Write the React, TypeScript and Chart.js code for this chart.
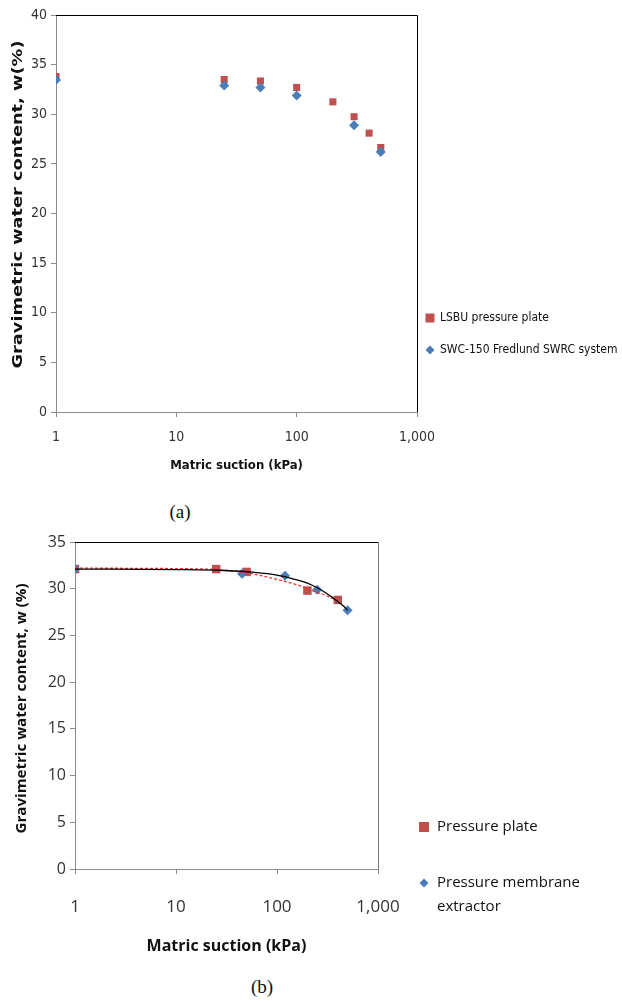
import React, { useEffect, useRef } from "react";
import { Chart, registerables } from "chart.js";

Chart.register(...registerables);

// ---------- data (a) ----------
const lsbuSuction = [1, 25, 50, 100, 200, 300, 400, 500];
const lsbuWater = [33.8, 33.5, 33.35, 32.7, 31.25, 29.75, 28.1, 26.65];
const swcSuction = [1, 25, 50, 100, 300, 500];
const swcWater = [33.45, 32.9, 32.7, 31.9, 28.9, 26.2];

// ---------- data (b) ----------
const plateSuction = [1, 25, 50, 200, 400];
const plateWater = [32.1, 32.1, 31.8, 29.8, 28.8];
const membraneSuction = [1, 45, 120, 250, 500];
const membraneWater = [32.1, 31.6, 31.4, 29.9, 27.7];
const membraneTrendSuction = [1, 10, 30, 60, 100, 150, 200, 250, 300, 350, 400, 450, 500];
const membraneTrendWater = [32.1, 32.05, 31.95, 31.75, 31.45, 31.0, 30.6, 30.1, 29.6, 29.1, 28.6, 28.2, 27.7];
const plateTrendSuction = [1, 10, 25, 50, 100, 150, 200, 250, 300, 400];
const plateTrendWater = [32.2, 32.15, 32.05, 31.7, 31.0, 30.5, 30.0, 29.6, 29.3, 28.7];

// ---------- ticks / labels ----------
const xTickValues = [1, 10, 100, 1000];
const xTickLabels = ["1", "10", "100", "1,000"];
const xTitle = "Matric suction (kPa)";
const yTitleA = "Gravimetric water content, w(%)";
const yTitleB = "Gravimetric water content, w (%)";
const legendA = ["LSBU pressure plate", "SWC-150 Fredlund SWRC system"];
const legendB = ["Pressure plate", "Pressure membrane extractor"];

const RED = "#C0504D";
const BLUE = "#4A7EBB";

const pts = (xs: number[], ys: number[]) => xs.map((x, i) => ({ x, y: ys[i] }));

const framePlugin = {
  id: "frame",
  beforeDatasetsDraw(chart: any, _a: any, opts: any) {
    const { ctx, chartArea: a } = chart;
    ctx.save();
    ctx.lineWidth = 1;
    ctx.strokeStyle = opts.top || "#000";
    ctx.beginPath();
    ctx.moveTo(a.left, Math.round(a.top) + 0.5);
    ctx.lineTo(Math.round(a.right) + 0.5, Math.round(a.top) + 0.5);
    ctx.stroke();
    ctx.strokeStyle = opts.right || "#000";
    ctx.beginPath();
    ctx.moveTo(Math.round(a.right) + 0.5, Math.round(a.top) + 0.5);
    ctx.lineTo(Math.round(a.right) + 0.5, a.bottom);
    ctx.stroke();
    ctx.restore();
  },
};

// y-axis title, stretched along its length like the reference
const yTitlePlugin = {
  id: "yTitle",
  afterDraw(chart: any, _a: any, opts: any) {
    const { ctx, chartArea: a } = chart;
    ctx.save();
    ctx.font = opts.font;
    ctx.fillStyle = opts.color;
    ctx.textAlign = "center";
    ctx.textBaseline = "middle";
    const w = ctx.measureText(opts.text).width;
    const stretch = opts.length ? opts.length / w : 1;
    ctx.translate(opts.x, (a.top + a.bottom) / 2 + (opts.dy || 0));
    ctx.rotate(-Math.PI / 2);
    ctx.scale(stretch, 1);
    ctx.fillText(opts.text, 0, 0);
    ctx.restore();
  },
};

const sideLegend = {
  id: "sideLegend",
  afterDraw(chart: any, _a: any, opts: any) {
    const { ctx } = chart;
    ctx.save();
    (opts.items || []).forEach((it: any) => {
      const ds = chart.data.datasets[it.index];
      const s = it.size;
      ctx.fillStyle = ds.backgroundColor;
      if (ds.pointStyle === "rect") {
        ctx.fillRect(it.x - s / 2, it.y - s / 2, s, s);
      } else {
        ctx.beginPath();
        ctx.moveTo(it.x, it.y - s / 2);
        ctx.lineTo(it.x + s / 2, it.y);
        ctx.lineTo(it.x, it.y + s / 2);
        ctx.lineTo(it.x - s / 2, it.y);
        ctx.closePath();
        ctx.fill();
      }
      ctx.font = opts.font;
      ctx.fillStyle = opts.color;
      ctx.textBaseline = "middle";
      ctx.textAlign = "left";
      const words = String(ds.label).split(" ");
      const lines: string[] = [];
      let cur = "";
      words.forEach((w) => {
        const t = cur ? cur + " " + w : w;
        if (cur && ctx.measureText(t).width > opts.maxWidth) {
          lines.push(cur);
          cur = w;
        } else cur = t;
      });
      if (cur) lines.push(cur);
      lines.forEach((l, i) => ctx.fillText(l, it.x + opts.gap, it.y + i * opts.lineHeight));
    });
    ctx.restore();
  },
};

function makeX(fontFamily: string, tickSize: number, titleSize: number, tickPad: number, axisH: number, titlePadB: number) {
  return {
    type: "logarithmic",
    min: 1,
    max: 1000,
    afterBuildTicks: (s: any) => {
      s.ticks = xTickValues.map((v) => ({ value: v }));
    },
    afterFit: (s: any) => {
      s.height = axisH;
    },
    ticks: {
      autoSkip: false,
      maxRotation: 0,
      padding: tickPad,
      color: "#333",
      font: { family: fontFamily, size: tickSize },
      callback: (v: any) => {
        const i = xTickValues.indexOf(Number(v));
        return i >= 0 ? xTickLabels[i] : "";
      },
    },
    grid: { display: true, drawOnChartArea: false, drawTicks: true, tickLength: 5, color: "#8c8c8c" },
    border: { color: "#8c8c8c" },
    title: {
      display: true,
      text: xTitle,
      color: "#111",
      font: { family: fontFamily, size: titleSize, weight: "bold" },
      padding: { top: 0, bottom: titlePadB },
    },
  };
}

function makeY(fontFamily: string, max: number, tickSize: number, width: number) {
  return {
    type: "linear",
    min: 0,
    max,
    afterFit: (s: any) => {
      s.width = width;
    },
    ticks: { stepSize: 5, padding: 4, color: "#333", font: { family: fontFamily, size: tickSize } },
    grid: { display: true, drawOnChartArea: false, drawTicks: true, tickLength: 5, color: "#8c8c8c" },
    border: { color: "#8c8c8c" },
    title: { display: false },
  };
}

const FONT_A = "'DejaVu Sans Condensed', 'Liberation Sans Narrow', 'Arial Narrow', sans-serif";
const FONT_B = "'Open Sans', 'Noto Sans', sans-serif";

function configA(): any {
  return {
    type: "scatter",
    data: {
      datasets: [
        {
          label: legendA[0],
          data: pts(lsbuSuction, lsbuWater),
          pointStyle: "rect",
          pointRadius: 5,
          backgroundColor: RED,
          borderColor: RED,
          borderWidth: 0,
          order: 2,
        },
        {
          label: legendA[1],
          data: pts(swcSuction, swcWater),
          pointStyle: "rectRot",
          pointRadius: 5,
          backgroundColor: BLUE,
          borderColor: BLUE,
          borderWidth: 0,
          order: 1,
        },
      ],
    },
    options: {
      animation: false,
      responsive: false,
      layout: { padding: { top: 15, right: 205, bottom: 2, left: 0 } },
      plugins: {
        legend: { display: false },
        tooltip: { enabled: false },
        frame: { top: "#000", right: "#000" },
        yTitle: { text: yTitleA, font: "bold 14px " + FONT_A, color: "#111", x: 18, dy: -9, length: 328 },
        sideLegend: {
          font: "12px " + FONT_A,
          color: "#111",
          gap: 10,
          lineHeight: 15,
          maxWidth: 200,
          items: [
            { index: 0, x: 430, y: 318, size: 9 },
            { index: 1, x: 430, y: 350, size: 9 },
          ],
        },
      },
      scales: {
        x: makeX(FONT_A, 14, 13, 12, 66, 5),
        y: makeY(FONT_A, 40, 14, 56),
      },
    },
    plugins: [framePlugin, yTitlePlugin, sideLegend],
  };
}

function configB(): any {
  return {
    type: "scatter",
    data: {
      datasets: [
        {
          label: legendB[0],
          data: pts(plateSuction, plateWater),
          pointStyle: "rect",
          pointRadius: 6,
          backgroundColor: RED,
          borderColor: RED,
          borderWidth: 0,
          order: 3,
        },
        {
          label: legendB[1],
          data: pts(membraneSuction, membraneWater),
          pointStyle: "rectRot",
          pointRadius: 5,
          backgroundColor: BLUE,
          borderColor: BLUE,
          borderWidth: 0,
          order: 2,
        },
        {
          label: "trend plate",
          data: pts(plateTrendSuction, plateTrendWater),
          showLine: true,
          pointRadius: 0,
          borderColor: "#E8302C",
          borderWidth: 1.3,
          borderDash: [3, 2],
          cubicInterpolationMode: "monotone",
          order: 1,
        },
        {
          label: "trend membrane",
          data: pts(membraneTrendSuction, membraneTrendWater),
          showLine: true,
          pointRadius: 0,
          borderColor: "#000",
          borderWidth: 1.3,
          cubicInterpolationMode: "monotone",
          order: 0,
        },
      ],
    },
    options: {
      animation: false,
      responsive: false,
      layout: { padding: { top: 22, right: 244, bottom: 1, left: 0 } },
      plugins: {
        legend: { display: false },
        tooltip: { enabled: false },
        frame: { top: "#000", right: "#777" },
        yTitle: { text: yTitleB, font: "bold 15px " + FONT_B, color: "#111", x: 22, dy: 3, length: 250 },
        sideLegend: {
          font: "15px " + FONT_B,
          color: "#111",
          gap: 13,
          lineHeight: 24,
          maxWidth: 175,
          items: [
            { index: 0, x: 424, y: 307, size: 10 },
            { index: 1, x: 424, y: 363, size: 9 },
          ],
        },
      },
      scales: {
        x: makeX(FONT_B, 17, 16, 23, 90, 3),
        y: makeY(FONT_B, 35, 16, 75),
      },
    },
    plugins: [framePlugin, yTitlePlugin, sideLegend],
  };
}

function ChartCanvas({ make, width, height, top }: { make: () => any; width: number; height: number; top: number }) {
  const ref = useRef<HTMLCanvasElement>(null);
  useEffect(() => {
    const chart = new Chart(ref.current as HTMLCanvasElement, make());
    return () => chart.destroy();
  }, []);
  return (
    <canvas
      ref={ref}
      width={width}
      height={height}
      style={{ position: "absolute", left: 0, top, width, height, display: "block" }}
    />
  );
}

export default function App() {
  const caption: React.CSSProperties = {
    position: "absolute",
    fontFamily: "'Liberation Serif', 'DejaVu Serif', serif",
    fontSize: 19,
    color: "#111",
    lineHeight: "22px",
    width: 40,
    textAlign: "center",
  };
  return (
    <div style={{ position: "absolute", left: 0, top: 0, width: 622, height: 1002, background: "#fff", overflow: "hidden" }}>
      <ChartCanvas make={configA} width={622} height={480} top={0} />
      <div style={{ ...caption, left: 160, top: 501 }}>(a)</div>
      <ChartCanvas make={configB} width={622} height={440} top={520} />
      <div style={{ ...caption, left: 242, top: 976 }}>(b)</div>
    </div>
  );
}
